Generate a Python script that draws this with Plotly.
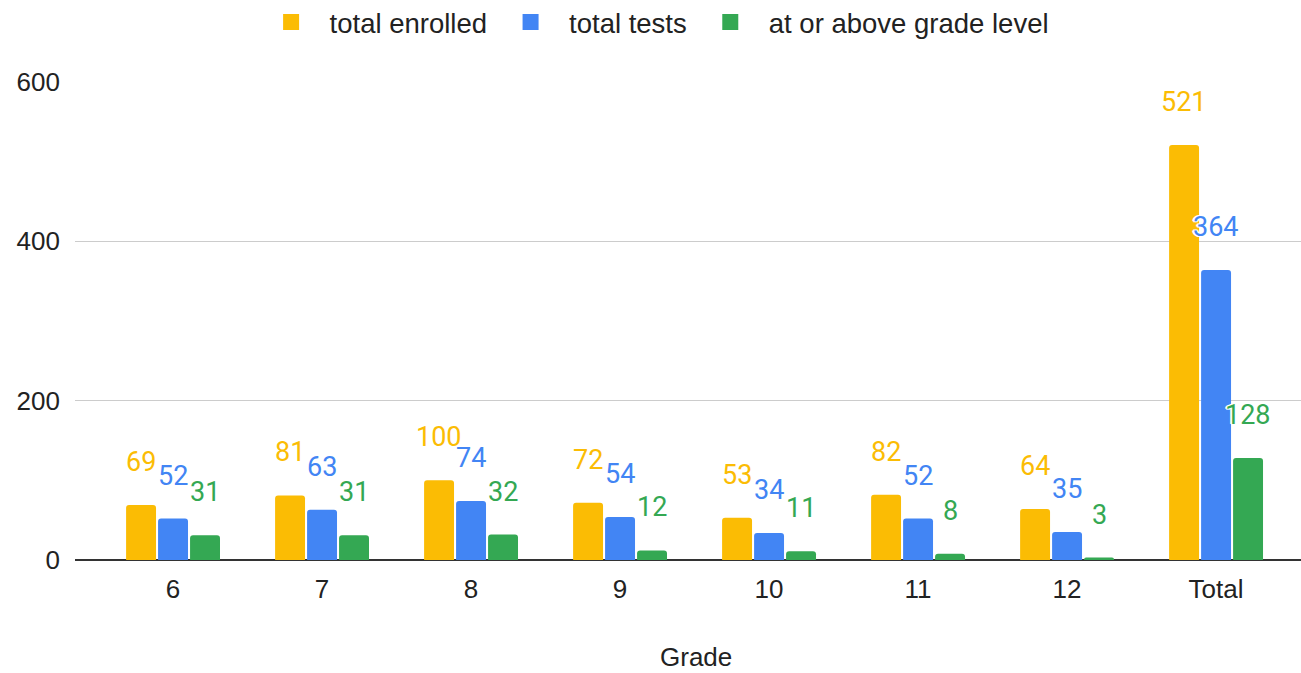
import plotly.graph_objects as go

grades = ['6', '7', '8', '9', '10', '11', '12', 'Total']
total_enrolled = [69, 81, 100, 72, 53, 82, 64, 521]
total_tests = [52, 63, 74, 54, 34, 52, 35, 364]
at_or_above = [31, 31, 32, 12, 11, 8, 3, 128]

COLORS = {
    'total enrolled': '#FBBC04',
    'total tests': '#4285F4',
    'at or above grade level': '#34A853',
}

series = [
    ('total enrolled', total_enrolled, -32),
    ('total tests', total_tests, 0),
    ('at or above grade level', at_or_above, 32),
]

HALO = '-1px -1px 0 #fff, 1px -1px 0 #fff, -1px 1px 0 #fff, 1px 1px 0 #fff, 2px 0 0 #fff, -2px 0 0 #fff'

fig = go.Figure()
for name, vals, shift in series:
    fig.add_trace(go.Bar(
        name=name,
        x=grades,
        y=vals,
        marker_color=COLORS[name],
        marker_line_width=0,
        showlegend=False,
    ))
    # legend entry with a bigger square than the bar legend gives
    fig.add_trace(go.Scatter(
        name=name,
        x=[None], y=[None],
        mode='markers',
        marker=dict(symbol='square', size=18, color=COLORS[name]),
    ))
    # data labels sit well above the bar top, as in google sheets
    for i, v in enumerate(vals):
        fig.add_annotation(
            x=i, y=v,
            text=str(v),
            showarrow=False,
            xshift=shift, yshift=43,
            yanchor='middle',
            font=dict(family='Roboto', size=27, color=COLORS[name], shadow=HALO),
        )

# axis title as an annotation, the real one gets clamped inside the margin
fig.add_annotation(
    text='Grade',
    xref='paper', yref='paper',
    x=0.5, y=0,
    xshift=8, yshift=-97,
    yanchor='middle',
    showarrow=False,
    borderpad=0,
    font=dict(size=26, color='#222'),
)

fig.update_layout(
    width=1301, height=673,
    margin=dict(l=75, r=0, t=82, b=113),
    paper_bgcolor='white',
    plot_bgcolor='white',
    barmode='group',
    bargap=0.356,
    bargroupgap=0.064,
    barcornerradius=3,
    font=dict(family='Liberation Sans, Arial, sans-serif', color='#222'),
    showlegend=True,
    legend=dict(
        orientation='h',
        xref='container', yref='container',
        x=0.502, xanchor='center',
        y=0.967, yanchor='middle',
        font=dict(size=27.5, color='#222'),
        itemsizing='trace',
        itemwidth=67,
        traceorder='normal',
    ),
    xaxis=dict(
        type='category',
        range=[-0.658, 7.57],
        showgrid=False,
        showline=False,
        automargin=False,
        tickfont=dict(size=26, color='#222'),
        ticklabelstandoff=11,
    ),
    yaxis=dict(
        range=[0, 600],
        tickvals=[0, 200, 400, 600],
        showgrid=True,
        gridcolor='#cccccc',
        gridwidth=1,
        zeroline=True,
        zerolinecolor='#333333',
        zerolinewidth=2,
        automargin=False,
        tickfont=dict(size=26, color='#222'),
        ticklabelstandoff=14,
    ),
)

# drop the default 8px body margin so the figure fills the window exactly
fig.write_html(
    "out.html",
    config={'displayModeBar': False},
    post_script="document.body.style.margin = '0';",
)
